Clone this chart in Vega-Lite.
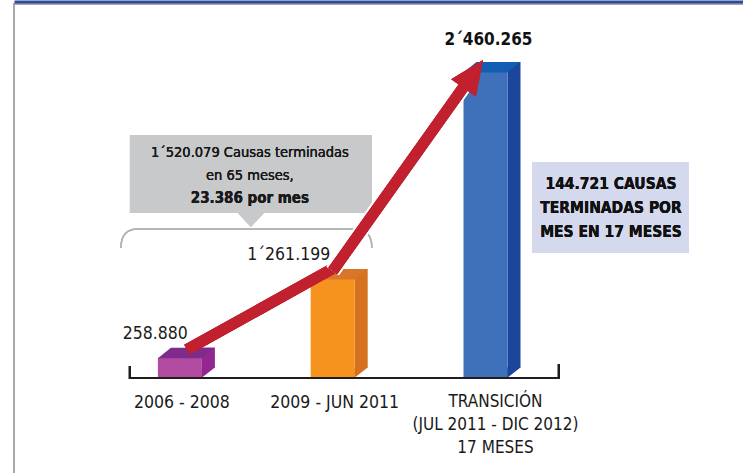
{
  "$schema": "https://vega.github.io/schema/vega-lite/v6.json",
  "width": 740,
  "height": 472,
  "autosize": {"type": "none"},
  "padding": {"left": 14, "top": 4, "right": 0, "bottom": 0},
  "background": "white",
  "config": {
    "view": {"stroke": "#a8a8a8", "strokeWidth": 2},
    "text": {"font": "DejaVu Sans Condensed, Roboto, sans-serif", "color": "#1a1a1a"},
    "axisX": {"domain": true, "domainColor": "#2b4b9b", "domainWidth": 3, "ticks": false, "labels": false, "grid": false, "offset": 2.5}
  },
  "data": {
    "values": [
      {"cat": "2006 - 2008", "value": 258880, "label": "258.880", "xlabel": "2006 - 2008"},
      {"cat": "2009 - JUN 2011", "value": 1261199, "label": "1´261.199", "xlabel": "2009 - JUN 2011"},
      {"cat": "TRANSICIÓN", "value": 2460265, "label": "2´460.265", "xlabel": "TRANSICIÓN\n(JUL 2011 - DIC 2012)\n17 MESES"}
    ]
  },
  "layer": [
    {
      "mark": {"type": "bar", "width": 13, "xOffset": 28.5, "yOffset": -10, "y2Offset": -10},
      "encoding": {
        "x": {
          "field": "cat", "type": "nominal",
          "scale": {"domain": ["2006 - 2008", "2009 - JUN 2011", "TRANSICIÓN"], "paddingInner": 0, "paddingOuter": 0.92146, "align": 0.3178},
          "axis": {"orient": "top", "title": null}
        },
        "y": {
          "field": "value", "type": "quantitative",
          "scale": {"domain": [0, 1261199, 2460265], "range": [374, 275, 68], "nice": false, "zero": false},
          "axis": null
        },
        "y2": {"datum": 0},
        "fill": {
          "condition": [
            {"test": "datum.cat === '2006 - 2008'", "value": "#93278f"},
            {"test": "datum.cat === '2009 - JUN 2011'", "value": "#d5711f"}
          ],
          "value": "#1c459c"
        }
      }
    },
    {
      "mark": {"type": "point", "shape": "M 21.5 -10.5 L 21.5 0 L 35 -10.5 Z", "size": 4, "filled": true, "opacity": 1, "strokeWidth": 0},
      "encoding": {
        "x": {"field": "cat", "type": "nominal", "axis": {"orient": "top", "title": null}},
        "y": {"datum": 0, "axis": null},
        "fill": {
          "condition": [
            {"test": "datum.cat === '2006 - 2008'", "value": "#93278f"},
            {"test": "datum.cat === '2009 - JUN 2011'", "value": "#d5711f"}
          ],
          "value": "#1c459c"
        }
      }
    },
    {
      "mark": {"type": "bar", "width": 44},
      "encoding": {
        "x": {"field": "cat", "type": "nominal", "axis": {"orient": "top", "title": null}},
        "y": {"field": "value", "type": "quantitative", "axis": null},
        "y2": {"datum": 0},
        "fill": {
          "condition": [
            {"test": "datum.cat === '2006 - 2008'", "value": "#b14b9f"},
            {"test": "datum.cat === '2009 - JUN 2011'", "value": "#f6931f"}
          ],
          "value": "#3e71b9"
        }
      }
    },
    {
      "mark": {"type": "point", "shape": "M -22 0.5 L 22 0.5 L 35 -10 L -9 -10 Z", "size": 4, "filled": true, "opacity": 1, "strokeWidth": 0},
      "encoding": {
        "x": {"field": "cat", "type": "nominal", "axis": {"orient": "top", "title": null}},
        "y": {"field": "value", "type": "quantitative", "axis": null},
        "fill": {
          "condition": [
            {"test": "datum.cat === '2006 - 2008'", "value": "#7e2b8c"},
            {"test": "datum.cat === '2009 - JUN 2011'", "value": "#d8772a"}
          ],
          "value": "#135cb3"
        }
      }
    },
    {
      "mark": {"type": "point", "shape": "M -50 -12 L -50 0 L 379 0 L 379 -14", "size": 4, "filled": false, "opacity": 1, "stroke": "#1e1e1e", "strokeWidth": 2.2},
      "encoding": {
        "x": {"datum": "2006 - 2008", "axis": {"orient": "top", "title": null}},
        "y": {"datum": 0, "axis": null}
      }
    },
    {
      "mark": {"type": "point", "shape": "M -50 -144 L 192 -144 L 192 -66 L 84 -66 L 71 -52 L 58 -66 L -50 -66 Z", "size": 4, "filled": true, "opacity": 1, "strokeWidth": 0, "fill": "#c8c9cb"},
      "encoding": {
        "x": {"datum": "2006 - 2008", "axis": {"orient": "top", "title": null}},
        "y": {"datum": 1261199, "axis": null}
      }
    },
    {
      "mark": {"type": "point", "shape": "M -59 -31 Q -59 -50 -42 -50 L 175 -50 Q 192 -50 192 -31", "size": 4, "filled": false, "opacity": 1, "stroke": "#b5b5b5", "strokeWidth": 1.5},
      "encoding": {
        "x": {"datum": "2006 - 2008", "axis": {"orient": "top", "title": null}},
        "y": {"datum": 1261199, "axis": null}
      }
    },
    {
      "mark": {"type": "point", "shape": "M 46.5 -117 L 203.5 -117 L 203.5 -26 L 46.5 -26 Z", "size": 4, "filled": true, "opacity": 1, "strokeWidth": 0, "fill": "#d5d9ee"},
      "encoding": {
        "x": {"datum": "TRANSICIÓN", "axis": {"orient": "top", "title": null}},
        "y": {"datum": 1261199, "axis": null}
      }
    },
    {
      "mark": {"type": "rule", "stroke": "#c1202f", "strokeWidth": 11, "xOffset": 7, "yOffset": -8, "x2Offset": 1, "y2Offset": -11},
      "encoding": {
        "x": {"datum": "2006 - 2008", "axis": {"orient": "top", "title": null}},
        "x2": {"datum": "2009 - JUN 2011"},
        "y": {"datum": 258880, "axis": null},
        "y2": {"datum": 1261199}
      }
    },
    {
      "mark": {"type": "rule", "stroke": "white", "strokeWidth": 15, "xOffset": 0, "yOffset": -8, "x2Offset": -20.5, "y2Offset": 13},
      "encoding": {
        "x": {"datum": "2009 - JUN 2011", "axis": {"orient": "top", "title": null}},
        "x2": {"datum": "TRANSICIÓN"},
        "y": {"datum": 1261199, "axis": null},
        "y2": {"datum": 2460265}
      }
    },
    {
      "mark": {"type": "rule", "stroke": "#c1202f", "strokeWidth": 11, "xOffset": 0, "yOffset": -8, "x2Offset": -20.5, "y2Offset": 13},
      "encoding": {
        "x": {"datum": "2009 - JUN 2011", "axis": {"orient": "top", "title": null}},
        "x2": {"datum": "TRANSICIÓN"},
        "y": {"datum": 1261199, "axis": null},
        "y2": {"datum": 2460265}
      }
    },
    {
      "mark": {"type": "point", "shape": "M 0 0 L 15 34 L -15 34 Z", "size": 4, "filled": true, "opacity": 1, "strokeWidth": 0, "fill": "#c1202f", "angle": 35, "xOffset": -2.5, "yOffset": -12},
      "encoding": {
        "x": {"datum": "TRANSICIÓN", "axis": {"orient": "top", "title": null}},
        "y": {"datum": 2460265, "axis": null}
      }
    },
    {
      "transform": [{"filter": "datum.cat === '2006 - 2008'"}],
      "mark": {"type": "text", "align": "right", "baseline": "middle", "dx": 8, "dy": -24, "fontSize": 17.5},
      "encoding": {
        "x": {"field": "cat", "type": "nominal", "axis": {"orient": "top", "title": null}},
        "y": {"field": "value", "type": "quantitative", "axis": null},
        "text": {"field": "label"}
      }
    },
    {
      "transform": [{"filter": "datum.cat === '2009 - JUN 2011'"}],
      "mark": {"type": "text", "align": "center", "baseline": "middle", "dx": -44, "dy": -24, "fontSize": 17.5},
      "encoding": {
        "x": {"field": "cat", "type": "nominal", "axis": {"orient": "top", "title": null}},
        "y": {"field": "value", "type": "quantitative", "axis": null},
        "text": {"field": "label"}
      }
    },
    {
      "transform": [{"filter": "datum.cat === 'TRANSICIÓN'"}],
      "mark": {"type": "text", "align": "center", "baseline": "middle", "dx": 3, "dy": -32, "fontSize": 17, "fontWeight": "bold", "color": "#111111"},
      "encoding": {
        "x": {"field": "cat", "type": "nominal", "axis": {"orient": "top", "title": null}},
        "y": {"field": "value", "type": "quantitative", "axis": null},
        "text": {"field": "label"}
      }
    },
    {
      "transform": [{"filter": "datum.cat !== 'TRANSICIÓN'"}],
      "mark": {"type": "text", "align": "center", "baseline": "top", "dx": 2, "dy": 16, "fontSize": 17.5},
      "encoding": {
        "x": {"field": "cat", "type": "nominal", "axis": {"orient": "top", "title": null}},
        "y": {"datum": 0, "axis": null},
        "text": {"field": "xlabel"}
      }
    },
    {
      "transform": [{"filter": "datum.cat === 'TRANSICIÓN'"}],
      "mark": {"type": "text", "align": "center", "baseline": "top", "dx": 10, "dy": 16, "fontSize": 17, "lineBreak": "\n", "lineHeight": 23},
      "encoding": {
        "x": {"field": "cat", "type": "nominal", "axis": {"orient": "top", "title": null}},
        "y": {"datum": 0, "axis": null},
        "text": {"field": "xlabel"}
      }
    },
    {
      "mark": {"type": "text", "align": "center", "baseline": "middle", "dx": 70, "dy": -126, "fontSize": 14.5},
      "encoding": {
        "x": {"datum": "2006 - 2008", "axis": {"orient": "top", "title": null}},
        "y": {"datum": 1261199, "axis": null},
        "text": {"value": "1´520.079 Causas terminadas"}
      }
    },
    {
      "mark": {"type": "text", "align": "center", "baseline": "middle", "dx": 70, "dy": -103, "fontSize": 14.5},
      "encoding": {
        "x": {"datum": "2006 - 2008", "axis": {"orient": "top", "title": null}},
        "y": {"datum": 1261199, "axis": null},
        "text": {"value": "en 65 meses,"}
      }
    },
    {
      "mark": {"type": "text", "align": "center", "baseline": "middle", "dx": 70, "dy": -81.5, "fontSize": 15, "fontWeight": "bold"},
      "encoding": {
        "x": {"datum": "2006 - 2008", "axis": {"orient": "top", "title": null}},
        "y": {"datum": 1261199, "axis": null},
        "text": {"value": "23.386 por mes"}
      }
    },
    {
      "mark": {"type": "text", "align": "center", "baseline": "middle", "dx": 125.5, "dy": -95, "fontSize": 15.5, "fontWeight": "bold", "color": "#111111"},
      "encoding": {
        "x": {"datum": "TRANSICIÓN", "axis": {"orient": "top", "title": null}},
        "y": {"datum": 1261199, "axis": null},
        "text": {"value": "144.721 CAUSAS"}
      }
    },
    {
      "mark": {"type": "text", "align": "center", "baseline": "middle", "dx": 125.5, "dy": -71, "fontSize": 15.5, "fontWeight": "bold", "color": "#111111"},
      "encoding": {
        "x": {"datum": "TRANSICIÓN", "axis": {"orient": "top", "title": null}},
        "y": {"datum": 1261199, "axis": null},
        "text": {"value": "TERMINADAS POR"}
      }
    },
    {
      "mark": {"type": "text", "align": "center", "baseline": "middle", "dx": 125.5, "dy": -47, "fontSize": 15.5, "fontWeight": "bold", "color": "#111111"},
      "encoding": {
        "x": {"datum": "TRANSICIÓN", "axis": {"orient": "top", "title": null}},
        "y": {"datum": 1261199, "axis": null},
        "text": {"value": "MES EN 17 MESES"}
      }
    }
  ]
}
